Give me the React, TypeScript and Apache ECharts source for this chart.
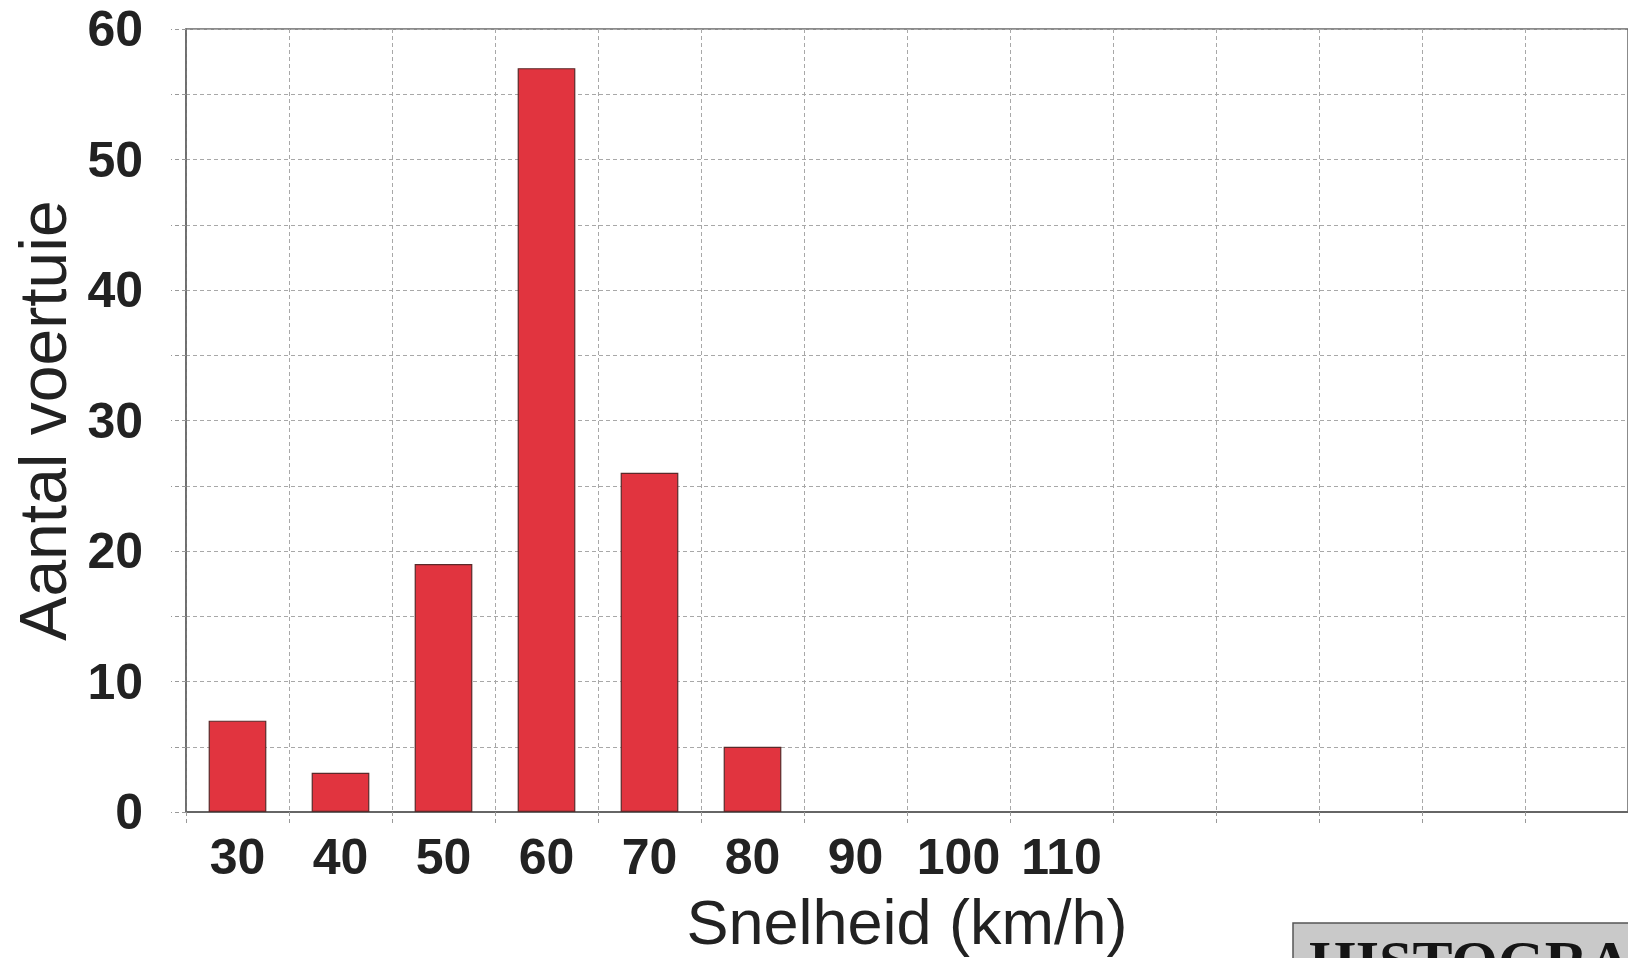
import React, { useEffect, useRef } from "react";
import * as echarts from "echarts";

const categories = ["30", "40", "50", "60", "70", "80", "90", "100", "110", "", "", "", "", ""];
const counts = [7, 3, 19, 57, 26, 5, 0, 0, 0];
const yTicks = [0, 10, 20, 30, 40, 50, 60];
const xName = "Snelheid (km/h)";
const yName = "Aantal voertuie";
const stampText = "HISTOGRAM";

export default function App() {
  const ref = useRef<HTMLDivElement>(null);
  useEffect(() => {
    if (!ref.current) return;
    const chart = echarts.init(ref.current, null, { renderer: "svg" });
    const font = "'Liberation Sans', Arial, sans-serif";
    const gridLine = { show: true, lineStyle: { color: "#a8a8a8", width: 1, type: [4, 3] as any } };
    const barData = counts.map((v) => (v === 0 ? { value: v, itemStyle: { borderWidth: 0 } } : v));
    chart.setOption({
      animation: false,
      backgroundColor: "#ffffff",
      grid: {
        left: 186,
        top: 29,
        bottom: 145,
        right: -15,
        show: true,
        borderColor: "#666",
        borderWidth: 1.5,
        backgroundColor: "transparent",
      },
      xAxis: {
        type: "category",
        data: categories,
        boundaryGap: true,
        name: xName,
        nameLocation: "middle",
        nameGap: 78,
        nameTextStyle: { fontFamily: font, fontSize: 63, color: "#222" },
        axisLine: { show: true, lineStyle: { color: "#666", width: 2 } },
        axisTick: { show: true, length: 14, interval: 0, lineStyle: { color: "#999", type: [4, 3] as any } },
        axisLabel: {
          interval: 0,
          margin: 20,
          fontFamily: font,
          fontSize: 50,
          fontWeight: "bold",
          color: "#222",
        },
        splitLine: { ...gridLine, interval: 0 },
      },
      yAxis: {
        type: "value",
        min: 0,
        max: 60,
        interval: 5,
        name: yName,
        nameLocation: "middle",
        nameGap: 109,
        nameTextStyle: { fontFamily: font, fontSize: 66, color: "#222" },
        axisLine: { show: true, lineStyle: { color: "#666", width: 1.5 } },
        axisTick: { show: true, length: 15, lineStyle: { color: "#999", type: [4, 3] as any } },
        axisLabel: {
          margin: 43,
          fontFamily: font,
          fontSize: 50,
          fontWeight: "bold",
          color: "#222",
          formatter: (v: number) => (yTicks.includes(v) ? String(v) : ""),
        },
        splitLine: gridLine,
      },
      series: [
        {
          type: "bar",
          data: barData,
          barCategoryGap: "44%",
          itemStyle: { color: "#e1343f", borderColor: "#5a2a2a", borderWidth: 1.2 },
        },
      ],
      graphic: [
        {
          type: "rect",
          shape: { x: 1293, y: 923, width: 400, height: 80 },
          style: { fill: "#c9c9c9", stroke: "#555", lineWidth: 1.5 },
          z: 10,
        },
        {
          type: "text",
          x: 1309,
          y: 932,
          style: {
            text: stampText,
            font: "bold 60px 'Liberation Serif', 'Times New Roman', serif",
            fill: "#151515",
          },
          z: 11,
        },
      ],
    });
    return () => chart.dispose();
  }, []);
  return (
    <div
      ref={ref}
      style={{ position: "fixed", left: 0, top: 0, width: 1628, height: 958, background: "#fff" }}
    />
  );
}
